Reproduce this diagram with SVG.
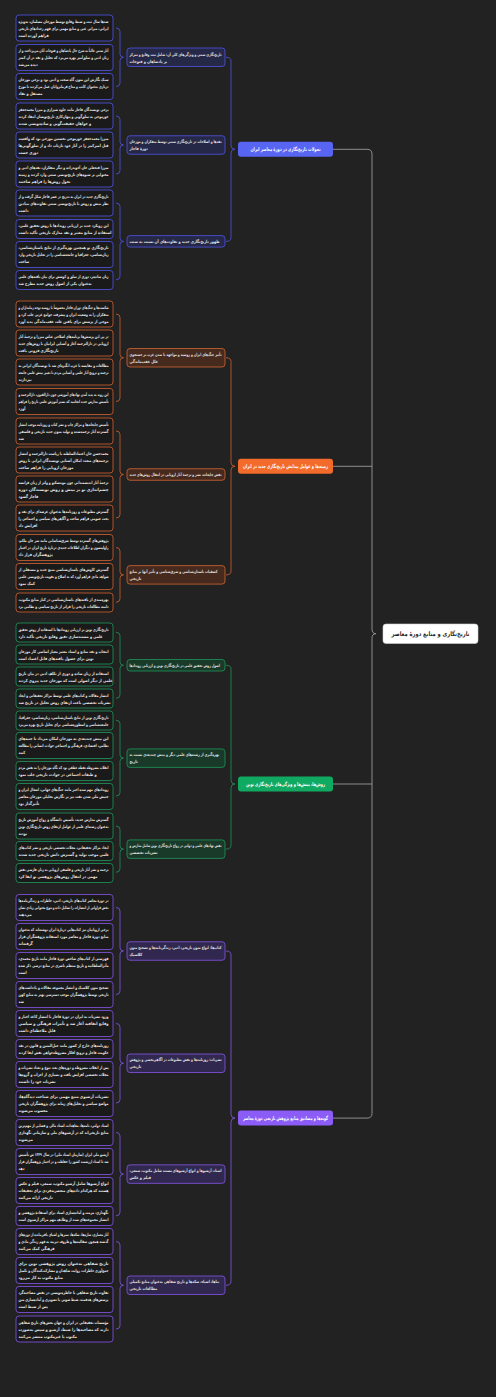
<svg xmlns="http://www.w3.org/2000/svg" width="496" height="1397" viewBox="0 0 496 1397">
<style>
.bg{fill:#222222}
.lf{fill:#1a1a1a;stroke-width:0.9}
.sb{stroke-width:0.9}
.t{font-family:"DejaVu Sans",sans-serif;font-size:4.3px;fill:#e8e8e8;font-weight:bold;direction:rtl;text-anchor:end}
.st{font-family:"DejaVu Sans",sans-serif;font-size:4.3px;fill:#e2e2e2;font-weight:bold;direction:rtl;text-anchor:end}
.mt{font-family:"DejaVu Sans",sans-serif;font-size:5.2px;fill:#ffffff;font-weight:bold;text-anchor:middle}
.rt{font-family:"DejaVu Sans",sans-serif;font-size:6.4px;fill:#1f1f1f;font-weight:bold;text-anchor:middle}
.blue{stroke:#4b4fd1}
.orange{stroke:#bf5a2e}
.green{stroke:#1c8a52}
.purple{stroke:#7a4fd4}
.sblue{fill:#262848;stroke:#4b4fd1}
.sorange{fill:#472a1e;stroke:#c05f30}
.sgreen{fill:#193a29;stroke:#1f8a55}
.spurple{fill:#30284f;stroke:#7b50d2}
.c{fill:none;stroke-width:0.9}
</style>
<rect class="bg" x="0" y="0" width="496" height="1397"/>

<g id="connectors">
<path class="c" stroke="#9a9a9a" d="M333,149.3 H367 Q372,149.3 372,154 V629 Q372,633.7 376,633.7 Q372,633.7 372,638.4 V1113.4 Q372,1118.1 367,1118.1 H333"/>
<path class="c" stroke="#9a9a9a" d="M333,466.3 H372 M333,784 H372"/>
<path class="c blue" d="M226,57.25 Q231,57.25 231,61 V145.5 Q231,149.3 235,149.3 Q231,149.3 231,153 V237.6 Q231,241.4 226,241.4"/>
<path class="c orange" d="M226,357.75 Q231,357.75 231,361.5 V462.5 Q231,466.3 235,466.3 Q231,466.3 231,470 V571 Q231,574.9 226,574.9"/>
<path class="c green" d="M226,665.25 Q231,665.25 231,669 V780.2 Q231,784 235,784 Q231,784 231,787.8 V845.3 Q231,849.1 226,849.1"/>
<path class="c purple" d="M226,951 Q231,951 231,955 V1114.3 Q231,1118.1 235,1118.1 Q231,1118.1 231,1122 V1281.4 Q231,1285.25 226,1285.25"/>
<path class="c blue" d="M116,28 Q120,28 120,31.5 V54 Q120,57.25 123.5,57.25 Q120,57.25 120,60.5 V83 Q120,86.5 116,86.5"/>
<path class="c blue" d="M116,116 Q120,116 120,119.5 V141.8 Q120,145 123.5,145 Q120,145 120,148.2 V170.5 Q120,174 116,174"/>
<path class="c blue" d="M116,203 Q120,203 120,206.5 V238.2 Q120,241.4 123.5,241.4 Q120,241.4 120,244.6 V276.3 Q120,279.75 116,279.75"/>
<path class="c orange" d="M116,314 Q120,314 120,317.5 V354.5 Q120,357.75 123.5,357.75 Q120,357.75 120,361 V398 Q120,401.5 116,401.5"/>
<path class="c orange" d="M116,431 Q120,431 120,434.5 V471.3 Q120,474.5 123.5,474.5 Q120,474.5 120,477.7 V514.5 Q120,518 116,518"/>
<path class="c orange" d="M116,547.5 Q120,547.5 120,551 V571.7 Q120,574.9 123.5,574.9 Q120,574.9 120,578.1 V598.8 Q120,602.25 116,602.25"/>
<path class="c green" d="M116,632.25 Q120,632.25 120,635.7 V662 Q120,665.25 123.5,665.25 Q120,665.25 120,668.5 V694.8 Q120,698.25 116,698.25"/>
<path class="c green" d="M116,720.25 Q120,720.25 120,723.7 V754.9 Q120,758.1 123.5,758.1 Q120,758.1 120,761.3 V792.5 Q120,796 116,796"/>
<path class="c green" d="M116,826 Q120,826 120,829.5 V845.9 Q120,849.1 123.5,849.1 Q120,849.1 120,852.3 V868.8 Q120,872.25 116,872.25"/>
<path class="c purple" d="M116,907.5 Q120,907.5 120,911 V947.8 Q120,951 123.5,951 Q120,951 120,954.2 V991 Q120,994.5 116,994.5"/>
<path class="c purple" d="M116,1023.5 Q120,1023.5 120,1027 V1060 Q120,1063.25 123.5,1063.25 Q120,1063.25 120,1066.5 V1099.5 Q120,1103 116,1103"/>
<path class="c purple" d="M116,1132.5 Q120,1132.5 120,1136 V1170.9 Q120,1174.1 123.5,1174.1 Q120,1174.1 120,1177.3 V1212.3 Q120,1215.75 116,1215.75"/>
<path class="c purple" d="M116,1241.5 Q120,1241.5 120,1245 V1282 Q120,1285.25 123.5,1285.25 Q120,1285.25 120,1288.5 V1325.5 Q120,1329 116,1329"/>
</g>

<g id="root"><rect x="383" y="624" width="95" height="19.5" rx="3" fill="#ffffff" stroke="#d0d0d0" stroke-width="0.6"/><text class="rt" x="430.5" y="636" textLength="78" lengthAdjust="spacingAndGlyphs">تاریخ‌نگاری و منابع دورهٔ معاصر</text></g>

<g id="main-blue"><rect x="238" y="141.8" width="95" height="15" rx="3" fill="#5865f2"/><text class="mt" x="285.5" y="151.2" textLength="70" lengthAdjust="spacingAndGlyphs">تحولات تاریخ‌نگاری در دورهٔ معاصر ایران</text></g>
<g id="main-orange"><rect x="238" y="458.8" width="95" height="15" rx="3" fill="#f26b2b"/><text class="mt" x="285.5" y="468.2" textLength="85" lengthAdjust="spacingAndGlyphs">زمینه‌ها و عوامل پیدایش تاریخ‌نگاری جدید در ایران</text></g>
<g id="main-green"><rect x="238" y="776.5" width="95" height="15" rx="3" fill="#10a961"/><text class="mt" x="285.5" y="785.9" textLength="79" lengthAdjust="spacingAndGlyphs">روش‌ها، بینش‌ها و ویژگی‌های تاریخ‌نگاری نوین</text></g>
<g id="main-purple"><rect x="238" y="1110.6" width="95" height="15" rx="3" fill="#8b5cf6"/><text class="mt" x="285.5" y="1120" textLength="85" lengthAdjust="spacingAndGlyphs">گونه‌ها و مصادیق منابع پژوهش تاریخی دورهٔ معاصر</text></g>

<g id="s-b1"><rect class="sb sblue" x="127" y="48" width="98" height="18.5" rx="3"/><g transform="matrix(0.8 0 0 1 25.9 0)"><text class="st" x="129.5" y="55.6" textLength="115" lengthAdjust="spacingAndGlyphs">تاریخ‌نگاری سنتی و ویژگی‌های کلی آن: شامل ثبت وقایع و تمرکز</text><text class="st" x="129.5" y="62.6">بر پادشاهان و فتوحات</text></g></g>
<g id="s-b2"><rect class="sb sblue" x="127" y="135.75" width="98" height="18.5" rx="3"/><g transform="matrix(0.8 0 0 1 25.9 0)"><text class="st" x="129.5" y="143.3" textLength="115" lengthAdjust="spacingAndGlyphs">نقدها و اصلاحات در تاریخ‌نگاری سنتی توسط متفکران و مورخان</text><text class="st" x="129.5" y="150.3">دورهٔ قاجار</text></g></g>
<g id="s-b3"><rect class="sb sblue" x="127" y="235.6" width="98" height="11.5" rx="3"/><g transform="matrix(0.8 0 0 1 25.9 0)"><text class="st" x="129.5" y="243">ظهور تاریخ‌نگاری جدید و تفاوت‌های آن نسبت به سنت</text></g></g>

<g id="s-o1"><rect class="sb sorange" x="127" y="348.5" width="98" height="18.5" rx="3"/><g transform="matrix(0.8 0 0 1 25.9 0)"><text class="st" x="129.5" y="356" textLength="115" lengthAdjust="spacingAndGlyphs">تأثیر جنگ‌های ایران و روسیه و مواجهه با تمدن غرب بر جستجوی</text><text class="st" x="129.5" y="363">علل عقب‌ماندگی</text></g></g>
<g id="s-o2"><rect class="sb sorange" x="127" y="468.75" width="98" height="11.5" rx="3"/><g transform="matrix(0.8 0 0 1 25.9 0)"><text class="st" x="129.5" y="476.1" textLength="115" lengthAdjust="spacingAndGlyphs">نقش چاپخانه، نشر و ترجمهٔ آثار اروپایی در انتقال روش‌های جدید</text></g></g>
<g id="s-o3"><rect class="sb sorange" x="127" y="565.6" width="98" height="18.5" rx="3"/><g transform="matrix(0.8 0 0 1 25.9 0)"><text class="st" x="129.5" y="573.2" textLength="110" lengthAdjust="spacingAndGlyphs">کشفیات باستان‌شناسی و شرق‌شناسی و تأثیر آنها بر منابع</text><text class="st" x="129.5" y="580.2">تاریخی</text></g></g>

<g id="s-g1"><rect class="sb sgreen" x="127" y="659.5" width="98" height="11.5" rx="3"/><g transform="matrix(0.8 0 0 1 25.9 0)"><text class="st" x="129.5" y="666.9" textLength="113" lengthAdjust="spacingAndGlyphs">اصول روش تحقیق علمی در تاریخ‌نگاری نوین و ارزیابی رویدادها</text></g></g>
<g id="s-g2"><rect class="sb sgreen" x="127" y="748.9" width="98" height="18.5" rx="3"/><g transform="matrix(0.8 0 0 1 25.9 0)"><text class="st" x="129.5" y="756.4" textLength="112" lengthAdjust="spacingAndGlyphs">بهره‌گیری از رشته‌های علمی دیگر و بینش چندبعدی نسبت به</text><text class="st" x="129.5" y="763.4">تاریخ</text></g></g>
<g id="s-g3"><rect class="sb sgreen" x="127" y="839.9" width="98" height="18.5" rx="3"/><g transform="matrix(0.8 0 0 1 25.9 0)"><text class="st" x="129.5" y="847.4" textLength="115" lengthAdjust="spacingAndGlyphs">نقش نهادهای علمی و دولتی در رواج تاریخ‌نگاری نوین شامل مدارس و</text><text class="st" x="129.5" y="854.4">نشریات تخصصی</text></g></g>

<g id="s-p1"><rect class="sb spurple" x="127" y="941.75" width="98" height="18.5" rx="3"/><g transform="matrix(0.8 0 0 1 25.9 0)"><text class="st" x="129.5" y="949.3" textLength="115" lengthAdjust="spacingAndGlyphs">کتاب‌ها: انواع متون تاریخی، ادبی، زندگی‌نامه‌ها و تصحیح متون</text><text class="st" x="129.5" y="956.3">کلاسیک</text></g></g>
<g id="s-p2"><rect class="sb spurple" x="127" y="1054" width="98" height="18.5" rx="3"/><g transform="matrix(0.8 0 0 1 25.9 0)"><text class="st" x="129.5" y="1061.5" textLength="115" lengthAdjust="spacingAndGlyphs">نشریات: روزنامه‌ها و نقش مطبوعات در آگاهی‌بخشی و پژوهش</text><text class="st" x="129.5" y="1068.5">تاریخی</text></g></g>
<g id="s-p3"><rect class="sb spurple" x="127" y="1164.85" width="98" height="18.5" rx="3"/><g transform="matrix(0.8 0 0 1 25.9 0)"><text class="st" x="129.5" y="1172.4" textLength="115" lengthAdjust="spacingAndGlyphs">اسناد، آرشیوها و انواع آرشیوهای مستند شامل مکتوب، سمعی،</text><text class="st" x="129.5" y="1179.4">فیلم و عکس</text></g></g>
<g id="s-p4"><rect class="sb spurple" x="127" y="1276" width="98" height="18.5" rx="3"/><g transform="matrix(0.8 0 0 1 25.9 0)"><text class="st" x="129.5" y="1283.5" textLength="112" lengthAdjust="spacingAndGlyphs">بناها، اشیاء، سکه‌ها و تاریخ شفاهی به‌عنوان منابع تکمیلی</text><text class="st" x="129.5" y="1290.5">مطالعات تاریخی</text></g></g>

<g id="l-b1"><rect class="lf blue" x="16" y="15" width="97" height="26" rx="3"/><g transform="matrix(0.8 0 0 1 3.7 0)"><text class="t" x="18.5" y="22.6" textLength="112.5" lengthAdjust="spacingAndGlyphs">صدها سال ثبت و ضبط وقایع توسط مورخان مسلمان، به‌ویژه</text><text class="t" x="18.5" y="29.6" textLength="112.5" lengthAdjust="spacingAndGlyphs">ایرانی، میراثی غنی و منابع مهمی برای فهم رخدادهای تاریخی</text><text class="t" x="18.5" y="36.6">فراهم آورده است</text></g></g>
<g id="l-b2"><rect class="lf blue" x="16" y="44.5" width="97" height="26" rx="3"/><g transform="matrix(0.8 0 0 1 3.7 0)"><text class="t" x="18.5" y="52.1" textLength="112.5" lengthAdjust="spacingAndGlyphs">آثار سنتی غالباً به شرح حال پادشاهان و فتوحات آنان می‌پرداخت و از</text><text class="t" x="18.5" y="59.1" textLength="112.5" lengthAdjust="spacingAndGlyphs">زبان ادبی و تملق‌آمیز بهره می‌برد که تحلیل و نقد در آن کمتر</text><text class="t" x="18.5" y="66.1">دیده می‌شد</text></g></g>
<g id="l-b3"><rect class="lf blue" x="16" y="73.5" width="97" height="26" rx="3"/><g transform="matrix(0.8 0 0 1 3.7 0)"><text class="t" x="18.5" y="81.1" textLength="112.5" lengthAdjust="spacingAndGlyphs">سبک نگارش این متون گاه سخت و ادبی بود و برخی مورخان</text><text class="t" x="18.5" y="88.1" textLength="112.5" lengthAdjust="spacingAndGlyphs">درباری به‌عنوان کاتب و مداح فرمانروایان عمل می‌کردند تا مورخ</text><text class="t" x="18.5" y="95.1">مستقل و نقاد</text></g></g>
<g id="l-b4"><rect class="lf blue" x="16" y="103" width="97" height="26" rx="3"/><g transform="matrix(0.8 0 0 1 3.7 0)"><text class="t" x="18.5" y="110.6" textLength="112.5" lengthAdjust="spacingAndGlyphs">برخی نویسندگان قاجار مانند جلوه شیرازی و میرزا محمدجعفر</text><text class="t" x="18.5" y="117.6" textLength="112.5" lengthAdjust="spacingAndGlyphs">خورموجی به تملق‌گویی و پنهان‌کاری تاریخ‌نویسان انتقاد کردند</text><text class="t" x="18.5" y="124.6">و خواهان حقیقت‌گویی و ساده‌نویسی شدند</text></g></g>
<g id="l-b5"><rect class="lf blue" x="16" y="132" width="97" height="26" rx="3"/><g transform="matrix(0.8 0 0 1 3.7 0)"><text class="t" x="18.5" y="139.6" textLength="112.5" lengthAdjust="spacingAndGlyphs">میرزا محمدجعفر خورموجی نخستین مورخی بود که واقعیت</text><text class="t" x="18.5" y="146.6" textLength="112.5" lengthAdjust="spacingAndGlyphs">قتل امیرکبیر را در آثار خود بازتاب داد و از تملق‌گویی‌ها</text><text class="t" x="18.5" y="153.6">دوری جست</text></g></g>
<g id="l-b6"><rect class="lf blue" x="16" y="161" width="97" height="26" rx="3"/><g transform="matrix(0.8 0 0 1 3.7 0)"><text class="t" x="18.5" y="168.6" textLength="112.5" lengthAdjust="spacingAndGlyphs">میرزا فتحعلی خان آخوندزاده و دیگر متفکران، نقدهای ادبی و</text><text class="t" x="18.5" y="175.6" textLength="112.5" lengthAdjust="spacingAndGlyphs">محتوایی بر شیوه‌های تاریخ‌نویسی سنتی وارد کردند و زمینه</text><text class="t" x="18.5" y="182.6">تحول روش‌ها را فراهم ساختند</text></g></g>
<g id="l-b7"><rect class="lf blue" x="16" y="190" width="97" height="26" rx="3"/><g transform="matrix(0.8 0 0 1 3.7 0)"><text class="t" x="18.5" y="197.6" textLength="112.5" lengthAdjust="spacingAndGlyphs">تاریخ‌نگاری جدید در ایران به تدریج در عصر قاجار شکل گرفت و از</text><text class="t" x="18.5" y="204.6" textLength="112.5" lengthAdjust="spacingAndGlyphs">نظر بینش و روش با تاریخ‌نویسی سنتی تفاوت‌های بنیادین</text><text class="t" x="18.5" y="211.6">داشت</text></g></g>
<g id="l-b8"><rect class="lf blue" x="16" y="219.5" width="97" height="19" rx="3"/><g transform="matrix(0.8 0 0 1 3.7 0)"><text class="t" x="18.5" y="227.1" textLength="112.5" lengthAdjust="spacingAndGlyphs">این رویکرد جدید بر ارزیابی رویدادها با روش تحقیق علمی،</text><text class="t" x="18.5" y="234.1">استفاده از منابع معتبر و نقد مدارک تاریخی تأکید داشت</text></g></g>
<g id="l-b9"><rect class="lf blue" x="16" y="241.5" width="97" height="26" rx="3"/><g transform="matrix(0.8 0 0 1 3.7 0)"><text class="t" x="18.5" y="249.1" textLength="112.5" lengthAdjust="spacingAndGlyphs">تاریخ‌نگاری نو همچنین بهره‌گیری از نتایج باستان‌شناسی،</text><text class="t" x="18.5" y="256.1" textLength="112.5" lengthAdjust="spacingAndGlyphs">زبان‌شناسی، جغرافیا و جامعه‌شناسی را در تحلیل تاریخی وارد</text><text class="t" x="18.5" y="263.1">ساخت</text></g></g>
<g id="l-b10"><rect class="lf blue" x="16" y="270.5" width="97" height="19" rx="3"/><g transform="matrix(0.8 0 0 1 3.7 0)"><text class="t" x="18.5" y="278.1" textLength="112.5" lengthAdjust="spacingAndGlyphs">زبان ساده‌تر، دوری از تملق و کوشش برای بیان یافته‌های علمی</text><text class="t" x="18.5" y="285.1">به‌عنوان یکی از اصول روش جدید مطرح شد</text></g></g>

<g id="l-o1"><rect class="lf orange" x="16" y="301" width="97" height="26" rx="3"/><g transform="matrix(0.8 0 0 1 3.7 0)"><text class="t" x="18.5" y="308.6" textLength="112.5" lengthAdjust="spacingAndGlyphs">شکست‌ها و جنگ‌های دوران قاجار مخصوصاً با روسیه توجه زمامداران و</text><text class="t" x="18.5" y="315.6" textLength="112.5" lengthAdjust="spacingAndGlyphs">متفکران را به وضعیت ایران و پیشرفت جوامع غربی جلب کرد و</text><text class="t" x="18.5" y="322.6" textLength="112.5" lengthAdjust="spacingAndGlyphs">موجی از پرسش برای یافتن علت عقب‌ماندگی پدید آورد</text></g></g>
<g id="l-o2"><rect class="lf orange" x="16" y="330" width="97" height="26" rx="3"/><g transform="matrix(0.8 0 0 1 3.7 0)"><text class="t" x="18.5" y="337.6" textLength="112.5" lengthAdjust="spacingAndGlyphs">در پی این پرسش‌ها برنامه‌های اصلاحی عباس میرزا و ترجمهٔ آثار</text><text class="t" x="18.5" y="344.6" textLength="112.5" lengthAdjust="spacingAndGlyphs">اروپایی در دارالترجمه آغاز و آشنایی ایرانیان با روش‌های جدید</text><text class="t" x="18.5" y="351.6">تاریخ‌نگاری فزونی یافت</text></g></g>
<g id="l-o3"><rect class="lf orange" x="16" y="359" width="97" height="26" rx="3"/><g transform="matrix(0.8 0 0 1 3.7 0)"><text class="t" x="18.5" y="366.6" textLength="112.5" lengthAdjust="spacingAndGlyphs">مطالعات و مقایسه با غرب انگیزه‌ای شد تا نویسندگان ایرانی به</text><text class="t" x="18.5" y="373.6" textLength="112.5" lengthAdjust="spacingAndGlyphs">ترجمه و ترویج آثار علمی و آشنایی مردم با تغییر بینش علمی جامعه</text><text class="t" x="18.5" y="380.6">بپردازند</text></g></g>
<g id="l-o4"><rect class="lf orange" x="16" y="388.5" width="97" height="26" rx="3"/><g transform="matrix(0.8 0 0 1 3.7 0)"><text class="t" x="18.5" y="396.1" textLength="112.5" lengthAdjust="spacingAndGlyphs">این روند به پدید آمدن نهادهای آموزشی چون دارالفنون، دارالترجمه و</text><text class="t" x="18.5" y="403.1" textLength="112.5" lengthAdjust="spacingAndGlyphs">تأسیس مدارس جدید انجامید که بستر آموزش علمی تاریخ را فراهم</text><text class="t" x="18.5" y="410.1">آورد</text></g></g>
<g id="l-o5"><rect class="lf orange" x="16" y="418" width="97" height="26" rx="3"/><g transform="matrix(0.8 0 0 1 3.7 0)"><text class="t" x="18.5" y="425.6" textLength="112.5" lengthAdjust="spacingAndGlyphs">تأسیس چاپخانه‌ها و مراکز چاپ و نشر کتاب و روزنامه موجب انتشار</text><text class="t" x="18.5" y="432.6" textLength="112.5" lengthAdjust="spacingAndGlyphs">گسترده آثار ترجمه‌شده و تولید متون جدید تاریخی و فلسفی</text><text class="t" x="18.5" y="439.6">شد</text></g></g>
<g id="l-o6"><rect class="lf orange" x="16" y="447" width="97" height="26" rx="3"/><g transform="matrix(0.8 0 0 1 3.7 0)"><text class="t" x="18.5" y="454.6" textLength="112.5" lengthAdjust="spacingAndGlyphs">محمدحسن خان اعتمادالسلطنه با ریاست دارالترجمه و انتشار</text><text class="t" x="18.5" y="461.6" textLength="112.5" lengthAdjust="spacingAndGlyphs">ترجمه‌های متعدد امکان آشنایی نویسندگان ایرانی با روش</text><text class="t" x="18.5" y="468.6">مورخان اروپایی را فراهم ساخت</text></g></g>
<g id="l-o7"><rect class="lf orange" x="16" y="476" width="97" height="26" rx="3"/><g transform="matrix(0.8 0 0 1 3.7 0)"><text class="t" x="18.5" y="483.6" textLength="112.5" lengthAdjust="spacingAndGlyphs">ترجمهٔ آثار اندیشمندانی چون مونتسکیو و ولتر از زبان فرانسه</text><text class="t" x="18.5" y="490.6" textLength="112.5" lengthAdjust="spacingAndGlyphs">چشم‌اندازی نو بر بینش و روش نویسندگان دوره</text><text class="t" x="18.5" y="497.6">قاجار گشود</text></g></g>
<g id="l-o8"><rect class="lf orange" x="16" y="505" width="97" height="26" rx="3"/><g transform="matrix(0.8 0 0 1 3.7 0)"><text class="t" x="18.5" y="512.6" textLength="112.5" lengthAdjust="spacingAndGlyphs">گسترش مطبوعات و روزنامه‌ها به‌عنوان عرصه‌ای برای نقد و</text><text class="t" x="18.5" y="519.6" textLength="112.5" lengthAdjust="spacingAndGlyphs">بحث عمومی فراهم ساخت و آگاهی‌های سیاسی و اجتماعی را</text><text class="t" x="18.5" y="526.6">افزایش داد</text></g></g>
<g id="l-o9"><rect class="lf orange" x="16" y="534.5" width="97" height="26" rx="3"/><g transform="matrix(0.8 0 0 1 3.7 0)"><text class="t" x="18.5" y="542.1" textLength="112.5" lengthAdjust="spacingAndGlyphs">پژوهش‌های گسترده توسط شرق‌شناسانی مانند سر جان ملکم،</text><text class="t" x="18.5" y="549.1" textLength="112.5" lengthAdjust="spacingAndGlyphs">راولینسون و دیگران اطلاعات جدیدی دربارهٔ تاریخ ایران در اختیار</text><text class="t" x="18.5" y="556.1">پژوهشگران قرار داد</text></g></g>
<g id="l-o10"><rect class="lf orange" x="16" y="563.5" width="97" height="26" rx="3"/><g transform="matrix(0.8 0 0 1 3.7 0)"><text class="t" x="18.5" y="571.1" textLength="112.5" lengthAdjust="spacingAndGlyphs">گسترش کاوش‌های باستان‌شناسی منبع جدید و مستقلی از</text><text class="t" x="18.5" y="578.1" textLength="112.5" lengthAdjust="spacingAndGlyphs">شواهد مادی فراهم آورد که به اصلاح و تقویت تاریخ‌نویسی علمی</text><text class="t" x="18.5" y="585.1">کمک نمود</text></g></g>
<g id="l-o11"><rect class="lf orange" x="16" y="593" width="97" height="19" rx="3"/><g transform="matrix(0.8 0 0 1 3.7 0)"><text class="t" x="18.5" y="600.6" textLength="112.5" lengthAdjust="spacingAndGlyphs">بهره‌مندی از یافته‌های باستان‌شناسی در کنار منابع مکتوب،</text><text class="t" x="18.5" y="607.6" textLength="112.5" lengthAdjust="spacingAndGlyphs">دامنه مطالعات تاریخی را فراتر از تاریخ سیاسی و نظامی برد</text></g></g>

<g id="l-g1"><rect class="lf green" x="16" y="623" width="97" height="19" rx="3"/><g transform="matrix(0.8 0 0 1 3.7 0)"><text class="t" x="18.5" y="630.6" textLength="112.5" lengthAdjust="spacingAndGlyphs">تاریخ‌نگاری نوین بر ارزیابی رویدادها با استفاده از روش تحقیق</text><text class="t" x="18.5" y="637.6">علمی و مستندسازی دقیق وقایع تاریخی تأکید دارد</text></g></g>
<g id="l-g2"><rect class="lf green" x="16" y="645" width="97" height="19" rx="3"/><g transform="matrix(0.8 0 0 1 3.7 0)"><text class="t" x="18.5" y="652.6" textLength="112.5" lengthAdjust="spacingAndGlyphs">انتخاب و نقد منابع و اسناد معتبر معیار اساسی کار مورخان</text><text class="t" x="18.5" y="659.6">نوین برای حصول یافته‌های قابل اعتماد است</text></g></g>
<g id="l-g3"><rect class="lf green" x="16" y="667" width="97" height="19" rx="3"/><g transform="matrix(0.8 0 0 1 3.7 0)"><text class="t" x="18.5" y="674.6" textLength="112.5" lengthAdjust="spacingAndGlyphs">استفاده از زبان ساده و دوری از تکلف ادبی در بیان تاریخ</text><text class="t" x="18.5" y="681.6">علمی از دیگر اصولی است که مورخان جدید پیروی کردند</text></g></g>
<g id="l-g4"><rect class="lf green" x="16" y="689" width="97" height="19" rx="3"/><g transform="matrix(0.8 0 0 1 3.7 0)"><text class="t" x="18.5" y="696.6" textLength="112.5" lengthAdjust="spacingAndGlyphs">انتشار مقالات و کتاب‌های علمی توسط مراکز تحقیقاتی و ایجاد</text><text class="t" x="18.5" y="703.6">نشریات تخصصی باعث ارتقای روش تحلیل در تاریخ شد</text></g></g>
<g id="l-g5"><rect class="lf green" x="16" y="711" width="97" height="19" rx="3"/><g transform="matrix(0.8 0 0 1 3.7 0)"><text class="t" x="18.5" y="718.6" textLength="112.5" lengthAdjust="spacingAndGlyphs">تاریخ‌نگاری نوین از نتایج باستان‌شناسی، زبان‌شناسی، جغرافیا،</text><text class="t" x="18.5" y="725.6" textLength="112.5" lengthAdjust="spacingAndGlyphs">جامعه‌شناسی و اسطوره‌شناسی برای تحلیل تاریخ بهره می‌برد</text></g></g>
<g id="l-g6"><rect class="lf green" x="16" y="732.5" width="97" height="26" rx="3"/><g transform="matrix(0.8 0 0 1 3.7 0)"><text class="t" x="18.5" y="740.1" textLength="112.5" lengthAdjust="spacingAndGlyphs">این بینش چندبعدی به مورخان امکان می‌داد تا جنبه‌های</text><text class="t" x="18.5" y="747.1" textLength="112.5" lengthAdjust="spacingAndGlyphs">نظامی، اقتصادی، فرهنگی و اجتماعی حوادث انسانی را مطالعه</text><text class="t" x="18.5" y="754.1">کنند</text></g></g>
<g id="l-g7"><rect class="lf green" x="16" y="761.5" width="97" height="19" rx="3"/><g transform="matrix(0.8 0 0 1 3.7 0)"><text class="t" x="18.5" y="769.1" textLength="112.5" lengthAdjust="spacingAndGlyphs">انقلاب مشروطه نقطه عطفی بود که نگاه مورخان را به نقش مردم</text><text class="t" x="18.5" y="776.1">و طبقات اجتماعی در حوادث تاریخی جلب نمود</text></g></g>
<g id="l-g8"><rect class="lf green" x="16" y="783.5" width="97" height="26" rx="3"/><g transform="matrix(0.8 0 0 1 3.7 0)"><text class="t" x="18.5" y="791.1" textLength="112.5" lengthAdjust="spacingAndGlyphs">رویدادهای مهم سده اخیر مانند جنگ‌های جهانی، اشغال ایران و</text><text class="t" x="18.5" y="798.1" textLength="112.5" lengthAdjust="spacingAndGlyphs">جنبش ملی شدن نفت نیز بر نگارش تحلیلی مورخان معاصر</text><text class="t" x="18.5" y="805.1">تأثیرگذار بود</text></g></g>
<g id="l-g9"><rect class="lf green" x="16" y="813" width="97" height="26" rx="3"/><g transform="matrix(0.8 0 0 1 3.7 0)"><text class="t" x="18.5" y="820.6" textLength="112.5" lengthAdjust="spacingAndGlyphs">گسترش مدارس جدید، تأسیس دانشگاه و رواج آموزش تاریخ</text><text class="t" x="18.5" y="827.6" textLength="112.5" lengthAdjust="spacingAndGlyphs">به‌عنوان رشته‌ای علمی از عوامل ارتقای روش تاریخ‌نگاری نوین</text><text class="t" x="18.5" y="834.6">بودند</text></g></g>
<g id="l-g10"><rect class="lf green" x="16" y="841.5" width="97" height="19" rx="3"/><g transform="matrix(0.8 0 0 1 3.7 0)"><text class="t" x="18.5" y="849.1" textLength="112.5" lengthAdjust="spacingAndGlyphs">ایجاد مراکز تحقیقاتی، مجلات تخصصی تاریخی و نشر کتاب‌های</text><text class="t" x="18.5" y="856.1">علمی موجب تولید و گسترش دانش تاریخی جدید شدند</text></g></g>
<g id="l-g11"><rect class="lf green" x="16" y="863.5" width="97" height="19" rx="3"/><g transform="matrix(0.8 0 0 1 3.7 0)"><text class="t" x="18.5" y="871.1" textLength="112.5" lengthAdjust="spacingAndGlyphs">ترجمه و نشر آثار تاریخی و فلسفی اروپایی به زبان فارسی نقش</text><text class="t" x="18.5" y="878.1">مهمی در انتقال روش‌های پژوهشی نو ایفا کرد</text></g></g>

<g id="l-p1"><rect class="lf purple" x="16" y="894.5" width="97" height="26" rx="3"/><g transform="matrix(0.8 0 0 1 3.7 0)"><text class="t" x="18.5" y="902.1" textLength="112.5" lengthAdjust="spacingAndGlyphs">در دورهٔ معاصر کتاب‌های تاریخی، ادبی، خاطرات و زندگی‌نامه‌ها</text><text class="t" x="18.5" y="909.1" textLength="112.5" lengthAdjust="spacingAndGlyphs">بخش فراوانی از انتشارات را تشکیل داده و تنوع محتوایی زیادی نشان</text><text class="t" x="18.5" y="916.1">می‌دهند</text></g></g>
<g id="l-p2"><rect class="lf purple" x="16" y="923.5" width="97" height="26" rx="3"/><g transform="matrix(0.8 0 0 1 3.7 0)"><text class="t" x="18.5" y="931.1" textLength="112.5" lengthAdjust="spacingAndGlyphs">برخی اروپاییان نیز کتاب‌هایی دربارهٔ ایران نوشته‌اند که به‌عنوان</text><text class="t" x="18.5" y="938.1" textLength="112.5" lengthAdjust="spacingAndGlyphs">منابع دورهٔ قاجار و معاصر مورد استفاده پژوهشگران قرار</text><text class="t" x="18.5" y="945.1">گرفته‌اند</text></g></g>
<g id="l-p3"><rect class="lf purple" x="16" y="952.5" width="97" height="26" rx="3"/><g transform="matrix(0.8 0 0 1 3.7 0)"><text class="t" x="18.5" y="960.1" textLength="112.5" lengthAdjust="spacingAndGlyphs">فهرستی از کتاب‌های شاخص دورهٔ قاجار مانند تاریخ محمدی،</text><text class="t" x="18.5" y="967.1" textLength="112.5" lengthAdjust="spacingAndGlyphs">مآثرالسلطانیه و تاریخ منتظم ناصری در منابع درسی ذکر شده</text><text class="t" x="18.5" y="974.1">است</text></g></g>
<g id="l-p4"><rect class="lf purple" x="16" y="981.5" width="97" height="26" rx="3"/><g transform="matrix(0.8 0 0 1 3.7 0)"><text class="t" x="18.5" y="989.1" textLength="112.5" lengthAdjust="spacingAndGlyphs">تصحیح متون کلاسیک و انتشار مجموعه مقالات و یادداشت‌های</text><text class="t" x="18.5" y="996.1" textLength="112.5" lengthAdjust="spacingAndGlyphs">تاریخی توسط پژوهشگران موجب دسترسی بهتر به منابع کهن</text><text class="t" x="18.5" y="1003.1">شد</text></g></g>
<g id="l-p5"><rect class="lf purple" x="16" y="1010.5" width="97" height="26" rx="3"/><g transform="matrix(0.8 0 0 1 3.7 0)"><text class="t" x="18.5" y="1018.1" textLength="112.5" lengthAdjust="spacingAndGlyphs">ورود نشریات به ایران در دورهٔ قاجار با انتشار کاغذ اخبار و</text><text class="t" x="18.5" y="1025.1" textLength="112.5" lengthAdjust="spacingAndGlyphs">وقایع اتفاقیه آغاز شد و تأثیرات فرهنگی و سیاسی</text><text class="t" x="18.5" y="1032.1">قابل ملاحظه‌ای داشت</text></g></g>
<g id="l-p6"><rect class="lf purple" x="16" y="1039.5" width="97" height="19" rx="3"/><g transform="matrix(0.8 0 0 1 3.7 0)"><text class="t" x="18.5" y="1047.1" textLength="112.5" lengthAdjust="spacingAndGlyphs">روزنامه‌های خارج از کشور مانند حبل‌المتین و قانون در نقد</text><text class="t" x="18.5" y="1054.1" textLength="112.5" lengthAdjust="spacingAndGlyphs">حکومت قاجار و ترویج افکار مشروطه‌خواهی نقش ایفا کردند</text></g></g>
<g id="l-p7"><rect class="lf purple" x="16" y="1061.5" width="97" height="26" rx="3"/><g transform="matrix(0.8 0 0 1 3.7 0)"><text class="t" x="18.5" y="1069.1" textLength="112.5" lengthAdjust="spacingAndGlyphs">پس از انقلاب مشروطه و دوره‌های بعد، تنوع و تعداد نشریات و</text><text class="t" x="18.5" y="1076.1" textLength="112.5" lengthAdjust="spacingAndGlyphs">مجلات تخصصی افزایش یافت و بسیاری از احزاب و گروه‌ها</text><text class="t" x="18.5" y="1083.1">نشریات خود را داشتند</text></g></g>
<g id="l-p8"><rect class="lf purple" x="16" y="1090.5" width="97" height="26" rx="3"/><g transform="matrix(0.8 0 0 1 3.7 0)"><text class="t" x="18.5" y="1098.1" textLength="112.5" lengthAdjust="spacingAndGlyphs">نشریات آرشیوی منبع مهمی برای شناخت دیدگاه‌ها،</text><text class="t" x="18.5" y="1105.1" textLength="112.5" lengthAdjust="spacingAndGlyphs">مواضع سیاسی و تحلیل‌های زمانه برای پژوهشگران تاریخی</text><text class="t" x="18.5" y="1112.1">محسوب می‌شوند</text></g></g>
<g id="l-p9"><rect class="lf purple" x="16" y="1119.5" width="97" height="26" rx="3"/><g transform="matrix(0.8 0 0 1 3.7 0)"><text class="t" x="18.5" y="1127.1" textLength="112.5" lengthAdjust="spacingAndGlyphs">اسناد دولتی، نامه‌ها، معاهدات، اسناد مالی و قضایی از مهم‌ترین</text><text class="t" x="18.5" y="1134.1" textLength="112.5" lengthAdjust="spacingAndGlyphs">منابع تاریخی‌اند که در آرشیوهای ملی و سازمانی نگهداری</text><text class="t" x="18.5" y="1141.1">می‌شوند</text></g></g>
<g id="l-p10"><rect class="lf purple" x="16" y="1148.5" width="97" height="26" rx="3"/><g transform="matrix(0.8 0 0 1 3.7 0)"><text class="t" x="18.5" y="1156.1" textLength="112.5" lengthAdjust="spacingAndGlyphs">آرشیو ملی ایران (سازمان اسناد ملی) در سال ۱۳۴۹ ش تأسیس</text><text class="t" x="18.5" y="1163.1" textLength="112.5" lengthAdjust="spacingAndGlyphs">شد تا اسناد ارزشمند کشور را حفاظت و در اختیار پژوهشگران قرار</text><text class="t" x="18.5" y="1170.1">دهد</text></g></g>
<g id="l-p11"><rect class="lf purple" x="16" y="1177.5" width="97" height="26" rx="3"/><g transform="matrix(0.8 0 0 1 3.7 0)"><text class="t" x="18.5" y="1185.1" textLength="112.5" lengthAdjust="spacingAndGlyphs">انواع آرشیوها شامل آرشیو مکتوب، سمعی، فیلم و عکس</text><text class="t" x="18.5" y="1192.1" textLength="112.5" lengthAdjust="spacingAndGlyphs">هستند که هرکدام داده‌های منحصربه‌فردی برای تحقیقات</text><text class="t" x="18.5" y="1199.1">تاریخی ارائه می‌کنند</text></g></g>
<g id="l-p12"><rect class="lf purple" x="16" y="1206.5" width="97" height="19" rx="3"/><g transform="matrix(0.8 0 0 1 3.7 0)"><text class="t" x="18.5" y="1214.1" textLength="112.5" lengthAdjust="spacingAndGlyphs">نگهداری، مرمت و آماده‌سازی اسناد برای استفادهٔ پژوهشی و</text><text class="t" x="18.5" y="1221.1" textLength="112.5" lengthAdjust="spacingAndGlyphs">انتشار مجموعه‌های سند از وظایف مهم مراکز آرشیوی است</text></g></g>
<g id="l-p13"><rect class="lf purple" x="16" y="1228.5" width="97" height="26" rx="3"/><g transform="matrix(0.8 0 0 1 3.7 0)"><text class="t" x="18.5" y="1236.1" textLength="112.5" lengthAdjust="spacingAndGlyphs">آثار معماری، سازه‌ها، سکه‌ها، تمبرها و اشیای باقی‌مانده از دوره‌های</text><text class="t" x="18.5" y="1243.1" textLength="112.5" lengthAdjust="spacingAndGlyphs">گذشته همچون سفالینه‌ها و ظروف دیرینه به فهم زندگی مادی و</text><text class="t" x="18.5" y="1250.1">فرهنگی کمک می‌کنند</text></g></g>
<g id="l-p14"><rect class="lf purple" x="16" y="1257.5" width="97" height="26" rx="3"/><g transform="matrix(0.8 0 0 1 3.7 0)"><text class="t" x="18.5" y="1265.1" textLength="112.5" lengthAdjust="spacingAndGlyphs">تاریخ شفاهی به‌عنوان روش پژوهشی نوین برای</text><text class="t" x="18.5" y="1272.1" textLength="112.5" lengthAdjust="spacingAndGlyphs">جمع‌آوری خاطرات، روایت شاهدان و مشارکت‌کنندگان و تکمیل</text><text class="t" x="18.5" y="1279.1">منابع مکتوب به کار می‌رود</text></g></g>
<g id="l-p15"><rect class="lf purple" x="16" y="1286.5" width="97" height="26" rx="3"/><g transform="matrix(0.8 0 0 1 3.7 0)"><text class="t" x="18.5" y="1294.1" textLength="112.5" lengthAdjust="spacingAndGlyphs">تفاوت تاریخ شفاهی با خاطره‌نویسی در نقش مصاحبه‌گر،</text><text class="t" x="18.5" y="1301.1" textLength="112.5" lengthAdjust="spacingAndGlyphs">پرسش‌های هدفمند، ضبط صوتی یا تصویری و آماده‌سازی متن</text><text class="t" x="18.5" y="1308.1">پس از ضبط است</text></g></g>
<g id="l-p16"><rect class="lf purple" x="16" y="1316" width="97" height="26" rx="3"/><g transform="matrix(0.8 0 0 1 3.7 0)"><text class="t" x="18.5" y="1323.6" textLength="112.5" lengthAdjust="spacingAndGlyphs">مؤسسات تحقیقاتی در ایران و جهان بخش‌های تاریخ شفاهی</text><text class="t" x="18.5" y="1330.6" textLength="112.5" lengthAdjust="spacingAndGlyphs">دارند که مصاحبه‌ها را ضبط، آرشیو و سپس به‌صورت</text><text class="t" x="18.5" y="1337.6">مکتوب یا غیرمکتوب منتشر می‌کنند</text></g></g>
</svg>
